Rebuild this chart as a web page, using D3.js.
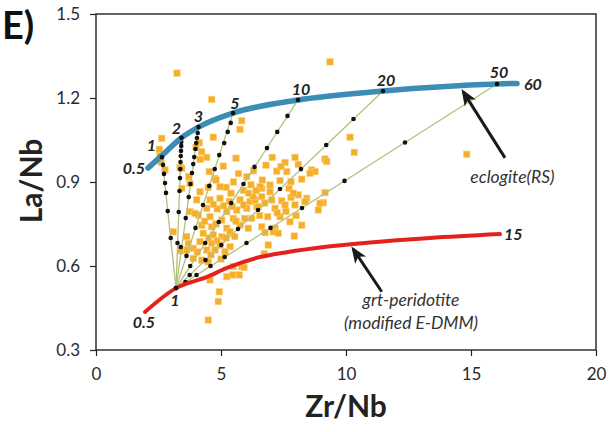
<!DOCTYPE html>
<html><head><meta charset="utf-8">
<script src="https://cdn.jsdelivr.net/npm/d3@7"></script>
<style>body{margin:0;background:#fff}svg{display:block}</style>
</head><body><svg id="c" width="611" height="432"></svg>
<script>
const xTicks = [0, 5, 10, 15, 20];
const yTicks = [0.3, 0.6, 0.9, 1.2, 1.5];

const eclogiteCurve = [[2.08,0.950],[2.64,0.995],[3.42,1.058],[4.10,1.096],[5.48,1.146],[8.08,1.193],[11.48,1.225],[16.04,1.250],[16.84,1.252]];
const eclogiteLabels = ["0.5","1","2","3","5","10","20","50","60"];

const peridotiteCurve = [[1.96,0.436],[3.2,0.521],[4.44,0.561],[5.24,0.593],[6.56,0.632],[7.68,0.650],[9.04,0.667],[10.96,0.684],[13.36,0.700],[16.16,0.714]];
const peridotiteLabels = ["0.5","1","15"];

const mixOrigin = [3.2, 0.521];
const mix1  = [[2.64,0.989],[2.68,0.961],[2.72,0.929],[2.76,0.896],[2.80,0.861],[2.87,0.796],[2.99,0.700]];
const mix2  = [[3.42,1.058],[3.41,1.043],[3.41,1.029],[3.40,1.011],[3.39,0.993],[3.38,0.971],[3.37,0.946],[3.36,0.914],[3.34,0.868],[3.31,0.793],[3.26,0.682]];
const mix3  = [[4.10,1.096],[4.07,1.075],[4.04,1.057],[4.01,1.039],[3.98,1.018],[3.93,0.989],[3.89,0.964],[3.84,0.932],[3.78,0.893],[3.71,0.846],[3.59,0.771],[3.39,0.668]];
const mix5  = [[5.48,1.146],[5.39,1.111],[5.27,1.079],[5.13,1.039],[4.93,0.996],[4.75,0.946],[4.53,0.886],[4.28,0.818],[3.98,0.736],[3.62,0.636]];
const mix10 = [[8.08,1.193],[7.66,1.136],[7.25,1.079],[6.84,1.021],[6.34,0.954],[5.90,0.893],[5.41,0.825],[4.91,0.757],[4.37,0.682],[3.77,0.600]];
const mix20 = [[11.48,1.225],[10.30,1.125],[9.21,1.032],[8.20,0.946],[7.36,0.875],[6.48,0.800],[5.68,0.732],[5.01,0.675],[4.38,0.621],[3.75,0.568]];
const mix50 = [[16.04,1.250],[12.36,1.041],[9.94,0.904],[8.24,0.807],[6.98,0.736],[6.02,0.682],[5.15,0.632],[4.58,0.600],[4.02,0.568],[3.58,0.543]];

const samples = [
[3.24,1.289],[9.36,1.329],[14.83,0.999],[4.63,1.195],[2.63,1.056],[2.53,1.017],[2.56,0.993],[2.60,0.971],[4.13,1.040],[4.43,0.988],[4.69,1.060],[5.83,1.119],[5.76,1.088],[5.60,0.985],[5.09,0.957],[5.20,0.881],[4.76,0.913],[4.16,0.981],[4.00,1.024],[3.36,0.952],[3.71,0.919],[3.76,0.895],[4.16,0.865],[2.76,0.943],[3.43,0.877],[4.53,0.937],[4.49,0.881],[6.03,0.919],[4.23,1.008],
[4.56,0.836],[4.96,0.842],[5.33,0.830],[5.76,0.836],[6.16,0.830],[4.43,0.806],[4.85,0.804],[5.23,0.794],[5.63,0.800],[6.03,0.806],[6.43,0.812],[4.09,0.782],[4.56,0.776],[5.03,0.764],[5.49,0.770],[6.23,0.770],[4.23,0.746],[4.63,0.740],[5.23,0.735],[5.76,0.746],[6.09,0.735],[4.29,0.717],[4.69,0.711],[5.03,0.705],[5.36,0.722],[3.09,0.722],[3.63,0.705],[4.16,0.687],[4.63,0.681],[4.96,0.675],[5.36,0.669],[3.89,0.663],[4.43,0.657],[4.76,0.657],[5.16,0.651],[3.39,0.654],[3.89,0.627],[4.23,0.621],[4.49,0.615],[5.49,0.598],[5.83,0.598],[5.23,0.562],[5.47,0.568],[5.73,0.568],[4.56,0.550],[4.93,0.508],[4.89,0.473],[4.49,0.407],[5.92,0.595],
[10.16,1.060],[10.33,1.006],[7.96,0.988],[7.56,0.970],[8.09,0.963],[9.16,0.982],[9.23,0.973],[7.23,0.939],[7.63,0.937],[8.63,0.943],[8.76,0.937],[8.56,0.931],[6.65,0.907],[6.96,0.889],[7.36,0.905],[7.80,0.901],[8.23,0.910],[6.63,0.877],[6.96,0.865],[7.72,0.877],[7.80,0.845],[8.09,0.854],[8.43,0.842],[9.16,0.862],[6.36,0.836],[6.63,0.848],[7.03,0.836],[7.43,0.833],[7.16,0.806],[7.56,0.818],[7.96,0.818],[8.36,0.830],[9.09,0.826],[8.89,0.800],[6.87,0.776],[7.36,0.776],[7.76,0.758],[8.23,0.746],[7.16,0.735],[6.63,0.740],[6.49,0.812],[7.05,0.988],[6.56,0.883],[7.89,0.860],[8.96,0.824],[6.76,0.719],[7.09,0.722],[7.29,0.717],[6.89,0.675],[7.93,0.707],[6.73,0.643],
[3.43,0.949],[4.80,0.907],[4.03,0.836],[3.76,0.794],[3.96,0.788],[3.69,0.681],[3.63,0.657],[4.96,0.883],[6.28,0.848],
[5.90,0.870],[6.20,0.890],[5.50,0.900],[5.70,0.930],[6.30,0.940],[5.40,0.860],[6.10,0.860],[6.40,0.870],[4.70,0.820],[5.10,0.815],[5.45,0.812],[5.90,0.818],[4.35,0.760],[4.80,0.750],[5.60,0.760],[5.95,0.770],[4.50,0.700],[4.85,0.690],[5.20,0.700],[5.55,0.705],[4.05,0.650],[4.60,0.640],[5.00,0.625],[6.80,0.960],[7.40,0.955],[6.75,0.825],[7.25,0.790],[7.60,0.795],[6.55,0.780],[8.00,0.780]
];

const panelLabel = "E)";
const xTitle = "Zr/Nb";
const yTitle = "La/Nb";
const eclogiteNote = ["eclogite(RS)"];
const peridotiteNote = ["grt-peridotite", "(modified E-DMM)"];
const eclogiteArrow = [[16.36,0.986],[14.69,1.222]];
const peridotiteArrow = [[11.43,0.508],[10.29,0.660]];
const eclogiteNotePos = [16.66,0.895];
const peridotiteNotePos = [12.6,0.457];

const FONT = "Lato, 'Open Sans', 'DejaVu Sans', sans-serif";
const svg = d3.select("#c");
const x = d3.scaleLinear().domain([0,20]).range([96,596]);
const y = d3.scaleLinear().domain([0.3,1.5]).range([350,14]);

svg.append("defs").append("marker")
  .attr("id","ah").attr("viewBox","0 0 10 8").attr("refX",8).attr("refY",4)
  .attr("markerWidth",5.5).attr("markerHeight",4.6).attr("orient","auto")
  .append("path").attr("d","M0,0L10,4L0,8L2.5,4Z").attr("fill","#1a1a1a");

// frame
svg.append("rect").attr("x",x(0)).attr("y",y(1.5))
  .attr("width",x(20)-x(0)).attr("height",y(0.3)-y(1.5))
  .attr("fill","none").attr("stroke","#222").attr("stroke-width",1.4);

const gx = svg.append("g").attr("transform",`translate(0,${y(0.3)})`)
  .call(d3.axisBottom(x).tickValues(xTicks).tickSize(6).tickPadding(12).tickFormat(d3.format("d")));
gx.select(".domain").remove();
gx.selectAll("line").attr("stroke","#222").attr("stroke-width",1.2);
gx.selectAll("text").attr("font-family",FONT).attr("font-size",17).attr("fill","#2a2a2a");

const gy = svg.append("g").attr("transform",`translate(${x(0)},0)`)
  .call(d3.axisLeft(y).tickValues(yTicks).tickSize(6).tickPadding(10).tickFormat(d3.format(".1f")));
gy.select(".domain").remove();
gy.selectAll("line").attr("stroke","#222").attr("stroke-width",1.2);
gy.selectAll("text").attr("font-family",FONT).attr("font-size",17).attr("fill","#2a2a2a");

// samples
svg.append("g").selectAll("rect").data(samples).join("rect")
  .attr("x",d=>x(d[0])-3.2).attr("y",d=>y(d[1])-3.2).attr("width",6.4).attr("height",6.4)
  .attr("fill","#f6ae2d").attr("stroke","#fbcf72").attr("stroke-width",0.6);

// mixing lines
const mixes = [mix1,mix2,mix3,mix5,mix10,mix20,mix50];
const gm = svg.append("g");
gm.selectAll("line").data(mixes).join("line")
  .attr("x1",x(mixOrigin[0])).attr("y1",y(mixOrigin[1]))
  .attr("x2",d=>x(d[0][0])).attr("y2",d=>y(d[0][1]))
  .attr("stroke","#b3c07a").attr("stroke-width",1.3);
const allDots = mixes.flat().concat([mixOrigin]);
gm.selectAll("circle").data(allDots).join("circle")
  .attr("cx",d=>x(d[0])).attr("cy",d=>y(d[1])).attr("r",2.3).attr("fill","#111");

// curves
const line = d3.line().x(d=>x(d[0])).y(d=>y(d[1])).curve(d3.curveMonotoneX);
svg.append("path").datum(peridotiteCurve).attr("d",line)
  .attr("fill","none").attr("stroke","#e3231b").attr("stroke-width",4).attr("stroke-linecap","round");
svg.append("path").datum(eclogiteCurve).attr("d",line)
  .attr("fill","none").attr("stroke","#3b8db6").attr("stroke-width",5.5).attr("stroke-linecap","round");
svg.append("g").selectAll("circle").data(mixes.map(m=>m[0]).concat([mixOrigin])).join("circle")
  .attr("cx",d=>x(d[0])).attr("cy",d=>y(d[1])).attr("r",2.3).attr("fill","#111");

// curve labels
const eOff = [[-3,6,"end"],[-6,-4,"end"],[-5,-4,"middle"],[0,-5,"middle"],[2,-4,"middle"],[3,-5,"middle"],[3,-5,"middle"],[2,-6,"middle"],[7,7,"start"]];
svg.append("g").selectAll("text").data(eclogiteLabels).join("text")
  .attr("x",(d,i)=>x(eclogiteCurve[i][0])+eOff[i][0])
  .attr("y",(d,i)=>y(eclogiteCurve[i][1])+eOff[i][1])
  .attr("text-anchor",(d,i)=>eOff[i][2])
  .attr("font-family",FONT).attr("font-size",16).attr("font-weight","bold").attr("font-style","italic")
  .attr("fill","#222").text(d=>d);
const pIdx = [0,1,peridotiteCurve.length-1];
const pOff = [[10,16,"end"],[-1,18,"middle"],[4,6,"start"]];
svg.append("g").selectAll("text").data(peridotiteLabels).join("text")
  .attr("x",(d,i)=>x(peridotiteCurve[pIdx[i]][0])+pOff[i][0])
  .attr("y",(d,i)=>y(peridotiteCurve[pIdx[i]][1])+pOff[i][1])
  .attr("text-anchor",(d,i)=>pOff[i][2])
  .attr("font-family",FONT).attr("font-size",16).attr("font-weight","bold").attr("font-style","italic")
  .attr("fill","#222").text(d=>d);

// arrows
[eclogiteArrow, peridotiteArrow].forEach(a=>{
  svg.append("line").attr("x1",x(a[0][0])).attr("y1",y(a[0][1]))
    .attr("x2",x(a[1][0])).attr("y2",y(a[1][1]))
    .attr("stroke","#1a1a1a").attr("stroke-width",3).attr("marker-end","url(#ah)");
});

// notes
svg.append("text").attr("x",x(eclogiteNotePos[0])).attr("y",y(eclogiteNotePos[1]))
  .attr("text-anchor","middle").attr("font-family",FONT).attr("font-size",17.5).attr("font-style","italic")
  .attr("fill","#333").text(eclogiteNote[0]);
peridotiteNote.forEach((t,i)=>{
  svg.append("text").attr("x",x(peridotiteNotePos[0])).attr("y",y(peridotiteNotePos[1])+i*23)
    .attr("text-anchor","middle").attr("font-family",FONT).attr("font-size",17.5).attr("font-style","italic")
    .attr("fill","#333").text(t);
});

// titles
svg.append("text").attr("x",346).attr("y",417).attr("text-anchor","middle")
  .attr("font-family",FONT).attr("font-size",30).attr("font-weight","bold").attr("fill","#222").text(xTitle);
svg.append("text").attr("transform","translate(42,181) rotate(-90)").attr("text-anchor","middle")
  .attr("font-family",FONT).attr("font-size",30).attr("font-weight","bold").attr("fill","#222").text(yTitle);
svg.append("text").attr("x",2).attr("y",39)
  .attr("font-family",FONT).attr("font-size",38).attr("font-weight","bold").attr("fill","#111").text(panelLabel);
</script></body></html>
